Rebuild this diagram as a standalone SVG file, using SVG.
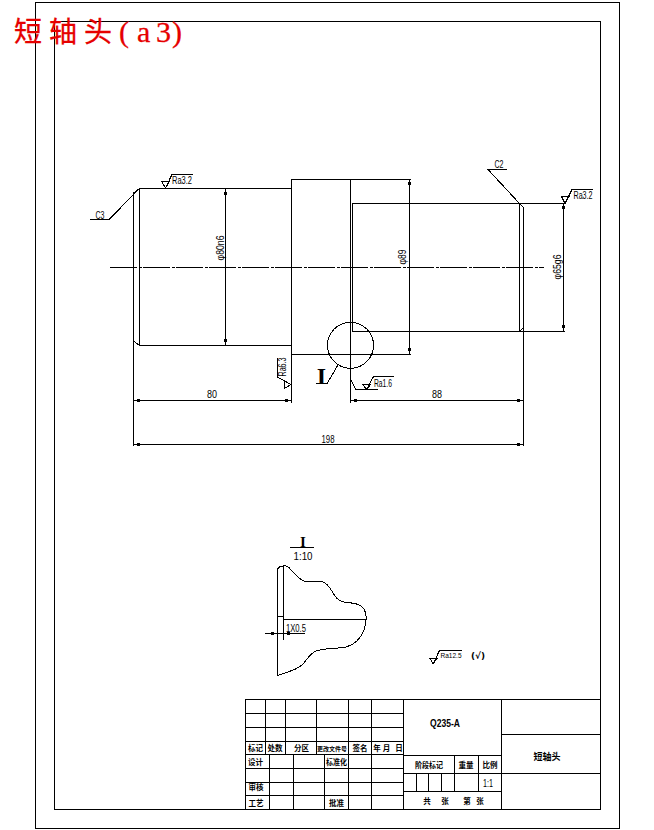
<svg xmlns="http://www.w3.org/2000/svg" width="654" height="830" viewBox="0 0 654 830">
<defs>
<style>
.l{fill:none;stroke:#000;stroke-width:1;shape-rendering:crispEdges}
.a{fill:none;stroke:#000;stroke-width:3;shape-rendering:crispEdges}
.t{font-family:"Liberation Sans",Arial,sans-serif;font-size:10px;fill:#000;text-anchor:middle}
.d{font-size:11px}
.c{font-family:"Noto Sans CJK SC","Liberation Sans",sans-serif;font-size:7.500px;font-weight:700;fill:#000;text-anchor:middle}
.r{font-family:"Liberation Serif",serif;font-weight:700;fill:#000;text-anchor:middle}
</style>
</defs>
<rect width="654" height="830" fill="#fff"/>
<g id="frame" class="l">
<rect x="35.500" y="2.500" width="584" height="826"/>
<rect x="54.500" y="21.500" width="546" height="788"/>
</g>
<text id="title" y="42" fill="#e60000" stroke="#e60000" stroke-width="0.300" font-size="28" font-family="'Noto Sans CJK SC','Liberation Serif',serif"><tspan x="14 49 84">短轴头</tspan><tspan x="119 137 156 172" font-family="'Liberation Serif',serif" font-size="30">(a3)</tspan></text>

<g id="shaft" class="l">
<path d="M133.500 193V446M139.500 188V345M291.500 179V403M350.500 179V403M352.500 204V331M519.500 203V331M523.500 207V446"/>
<path d="M139 188.500H291M291 179.500H411M352 203.500H565M139 345.500H291M291 354.500H411M352 331.500H565"/>
<path d="M133.500 193L139.500 188.500M133.500 341L139.500 345.500M519.500 203.500L523.500 207.500M519.500 331.500L523.500 327.500"/>
<path d="M110 267.500H544" stroke-dasharray="27 1.500 3 1.500"/>
</g>

<g id="detail-circle" class="l"><circle cx="350.500" cy="345.300" r="23"/></g>

<g id="connectors">
<g class="l">
<path d="M225.500 188V345M409.500 179V354M563.500 203V331M133 400.500H291M350 400.500H523M133 444.500H523"/>
</g>
<g class="a">
<path d="M225.500 192V195M225.500 339V342M409.500 182V185M409.500 348V351M563.500 206V209M563.500 325V328"/>
<path d="M137 400.500H140M285 400.500H288M354 400.500H357M517 400.500H520M137 444.500H140M517 444.500H520"/>
</g>
<g class="l">
<path d="M139.500 188.500L109 219.500H90"/>
<path d="M519.500 203.500L488 169.500H507"/>
<path d="M338 365L327 383.500H316"/>
<path d="M351 380L356 389.500H378"/>
</g>
</g>

<g id="dim-labels">
<text class="t d" x="212" y="398" textLength="10" lengthAdjust="spacingAndGlyphs">80</text>
<text class="t d" x="437" y="398" textLength="10" lengthAdjust="spacingAndGlyphs">88</text>
<text class="t d" x="328" y="443" textLength="13" lengthAdjust="spacingAndGlyphs">198</text>
<text class="t" transform="translate(224,248) rotate(-90)" textLength="25" lengthAdjust="spacingAndGlyphs">φ80n6</text>
<text class="t" transform="translate(406,257) rotate(-90)" textLength="15" lengthAdjust="spacingAndGlyphs">φ89</text>
<text class="t" transform="translate(561,267) rotate(-90)" textLength="25" lengthAdjust="spacingAndGlyphs">φ65g6</text>
<text class="t" x="100" y="219" textLength="9" lengthAdjust="spacingAndGlyphs">C3</text>
<text class="t" x="499" y="168" textLength="9" lengthAdjust="spacingAndGlyphs">C2</text>
<text class="r" x="321.500" y="383.500" font-size="24">I</text>
</g>

<g id="roughness" class="l">
<path d="M165.500 188L161.500 181.500H169.500L165.500 188L172 174.500H192.500"/>
<path d="M565 203.500L561.500 196.500H569L565 203.500L572 189.500H593"/>
<path d="M366.500 389.500L363 384.500H370.500L366.500 389.500L373.500 376.500H393.500"/>
<path d="M291 384.500L284.500 381V388.500L291 384.500L277.500 377V357.500"/>
<path d="M433 664L430 658.500H437L433 664L439.500 650.500H462"/>
</g>
<g id="roughness-labels">
<text class="t" x="182" y="184" textLength="20" lengthAdjust="spacingAndGlyphs">Ra3.2</text>
<text class="t" x="583" y="198.500" textLength="19" lengthAdjust="spacingAndGlyphs">Ra3.2</text>
<text class="t" x="383" y="387" textLength="18" lengthAdjust="spacingAndGlyphs">Ra1.6</text>
<text class="t" transform="translate(286,367) rotate(-90)" textLength="19" lengthAdjust="spacingAndGlyphs">Ra6.3</text>
<text class="t" x="451" y="658" textLength="21" lengthAdjust="spacingAndGlyphs" style="font-size:8px">Ra12.5</text>
<text class="t" x="478" y="659" textLength="14" lengthAdjust="spacingAndGlyphs" style="font-family:'DejaVu Sans',sans-serif;font-size:9px;font-weight:700">(√)</text>
</g>

<g id="detail-view">
<text class="r" x="303" y="547" font-size="15">I</text>
<path class="l" d="M290 547.500H314"/>
<text class="t" x="303" y="560" textLength="19" lengthAdjust="spacingAndGlyphs">1:10</text>
<path class="l" d="M277.500 569C279 567 281 566 283 566C287 565 289 567 291 570C296 575 300 581 306 581.500C313 582 319 581 323 582C328 583 331 590 335 596C338 601 342 602 347 602.500C355 603 361 604 364 609C367 614 367 621 364 630C360 640 354 645 346 647C335 649 324 648 316 651C309 654 307 660 303 664C298 669 291 671 277.500 675.500"/>
<path class="l" d="M277.500 569V676M283.500 566V640M283 619.500H366M277 616.500H283M265 633.500H305"/>
<path class="a" d="M271 633.500H274M287 633.500H290"/>
<text class="t" x="296" y="632" textLength="20" lengthAdjust="spacingAndGlyphs">1X0.5</text>
</g>

<g id="title-block">
<path class="l" d="M245.500 699.500H600M245.500 713.500H403M245.500 727.500H403M245.500 741.500H403M245.500 754.500H403M245.500 768.500H403M245.500 782.500H403M245.500 795.500H403M245.500 809.500H600
M245.500 699V810M265.500 699V754M285.500 699V754M316.500 699V754M348.500 699V810M371.500 699V810M403.500 699V810
M269.500 754V810M293.500 754V810M324.500 754V810
M501.500 699V810M501 734.500H600M403 755.500H501M403 773.500H600M403 791.500H501
M454.500 755V792M478.500 755V792M416.500 773V792M428.500 773V792M441.500 773V792"/>
<g>
<text class="c" x="255.500" y="750.500">标记</text>
<text class="c" x="275" y="750.500">处数</text>
<text class="c" x="301.500" y="750.500">分区</text>
<text class="c" x="332" y="750.500" textLength="30" lengthAdjust="spacingAndGlyphs" style="font-size:6px">更改文件号</text>
<text class="c" x="360" y="750.500">签名</text>
<text class="c" x="377" y="750.500">年</text>
<text class="c" x="386.500" y="750.500">月</text>
<text class="c" x="399" y="750.500">日</text>
<text class="c" x="255.500" y="765">设计</text>
<text class="c" x="336.500" y="765" textLength="21" lengthAdjust="spacingAndGlyphs">标准化</text>
<text class="c" x="256" y="790">审核</text>
<text class="c" x="256" y="806">工艺</text>
<text class="c" x="336.500" y="806">批准</text>
<text class="c" x="429" y="767.500" textLength="28" lengthAdjust="spacingAndGlyphs">阶段标记</text>
<text class="c" x="466" y="767.500">重量</text>
<text class="c" x="490" y="767.500">比例</text>
<text class="c" x="427" y="804">共</text>
<text class="c" x="445" y="804">张</text>
<text class="c" x="467" y="804">第</text>
<text class="c" x="480" y="804">张</text>
<text class="t" x="488" y="787" textLength="10" lengthAdjust="spacingAndGlyphs">1:1</text>
<text class="t" x="445" y="727" textLength="30" lengthAdjust="spacingAndGlyphs" style="font-weight:700">Q235-A</text>
<text class="c" x="547" y="760" textLength="27" lengthAdjust="spacingAndGlyphs" style="font-size:9px">短轴头</text>
</g>
</g>
</svg>
